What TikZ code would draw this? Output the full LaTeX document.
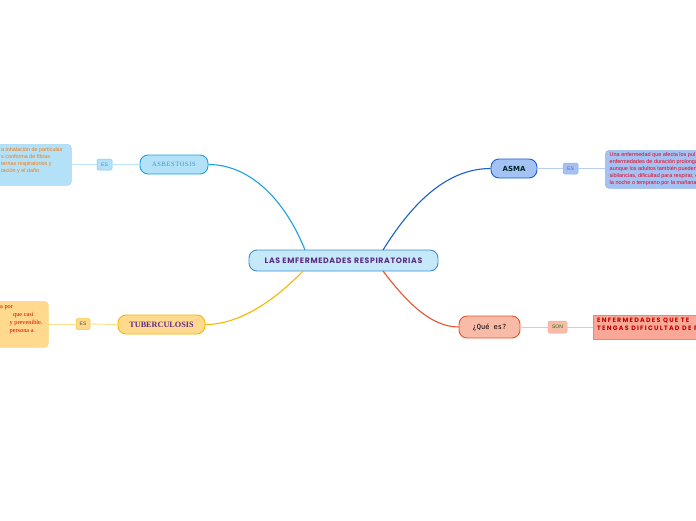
\documentclass[tikz,border=0pt]{standalone}
\usepackage{fontspec}
\setmainfont{Liberation Serif}
\setsansfont{DejaVu Sans}
\newfontfamily\titlefont[LetterSpace=8]{Poppins}
\newfontfamily\widefont[LetterSpace=20]{Poppins}
\newfontfamily\bodyfont{Liberation Sans}
\newfontfamily\monofont{DejaVu Sans Mono}
\usetikzlibrary{positioning}
\definecolor{cblue}{HTML}{1EA0E0}
\definecolor{cbluefill}{HTML}{B3E2F8}
\definecolor{cdblue}{HTML}{1A5FC9}
\definecolor{cdbluefill}{HTML}{A4C2F4}
\definecolor{cyel}{HTML}{F5B800}
\definecolor{cyelfill}{HTML}{FFD98E}
\definecolor{cred}{HTML}{E8542C}
\definecolor{credfill}{HTML}{F8BBA8}
\definecolor{ctitlefill}{HTML}{C5E9F8}
\definecolor{ctitleborder}{HTML}{3D8FD8}
\definecolor{cpurple}{HTML}{5B2A86}
\tikzset{
  topic/.style={draw, rounded corners=8pt, line width=0.9pt, inner sep=0pt},
  small/.style={draw, rounded corners=1.5pt, line width=0.5pt, inner sep=0pt, minimum width=15pt, minimum height=11pt, font=\fontsize{5}{6}\selectfont\bodyfont},
  leaf/.style={rounded corners=4pt, line width=0.7pt, inner sep=0pt, anchor=north west, draw},
  conn/.style={line width=1.1pt},
  thin/.style={line width=0.9pt}
}
\begin{document}
\begin{tikzpicture}[x=1pt,y=-1pt]
\useasboundingbox (0,0) rectangle (696,520);
\clip (0,0) rectangle (696,520);
\fill[white] (0,0) rectangle (696,520);
% central
\node[topic, draw=ctitleborder, fill=ctitlefill, minimum width=189pt, minimum height=21pt, text=cpurple, font=\fontsize{7.8}{8}\selectfont\titlefont\bfseries] (c) at (343.5,260.5) {LAS EMFERMEDADES RESPIRATORIAS};
% main topics
\node[topic, draw=cblue, fill=cbluefill, minimum width=68pt, minimum height=19pt, text=cblue!60!gray, font=\fontsize{6.5}{7}\selectfont] (asb) at (174,164.5) {A\kern.6pt S\kern.6pt B\kern.6pt E\kern.6pt S\kern.6pt T\kern.6pt O\kern.6pt S\kern.6pt I\kern.6pt S};
\node[topic, draw=cdblue, fill=cdbluefill, minimum width=46pt, minimum height=19pt, text=black!70!teal, font=\fontsize{7}{8}\selectfont\sffamily\bfseries] (asma) at (514,168.5) {ASMA};
\node[topic, draw=cyel, fill=cyelfill, minimum width=87pt, minimum height=19pt, text=cpurple, font=\fontsize{8.2}{9}\selectfont\bfseries] (tub) at (161.5,324.5) {TUBERCULOSIS};
\node[topic, draw=cred, fill=credfill, minimum width=61pt, minimum height=22pt, text=black, font=\fontsize{7}{8}\selectfont\monofont] (que) at (489.5,327) {¿Qué es?};
% connectors
\draw[conn, cblue] (305,250) .. controls (285,200) and (250,164.5) .. (asb.east);
\draw[conn, cdblue] (383,250) .. controls (405,215) and (440,168.5) .. (asma.west);
\draw[conn, cyel] (303,271) .. controls (275,300) and (240,324.5) .. (tub.east);
\draw[conn, cred] (383,271) .. controls (405,300) and (430,327) .. (que.west);
% small ES/SON boxes
\node[small, draw=cblue!60, fill=cbluefill, text=cblue!60!gray] (es1) at (104.5,164.5) {ES};
\node[small, draw=cdblue!50, fill=cdbluefill, text=cpurple!80] (es2) at (570.5,168.5) {ES};
\node[small, draw=cyel!80, fill=cyelfill, text=black!70, minimum width=14pt] (es3) at (83,324) {ES};
\node[small, draw=cred!50, fill=credfill, text=green!50!black, minimum width=19pt, minimum height=12pt] (son) at (557.5,327) {SON};
% leaves
\node[leaf, draw=cblue!40, fill=cbluefill, minimum width=111pt, minimum height=41pt] (l1) at (-40,144) {};
\node[anchor=north west, inner sep=0pt, align=left, text=orange!90!red, font=\fontsize{5.4}{7}\selectfont\bodyfont] (l1t) at (1,147.5) {a inhalación de partículas\\s conforma de fibras\\ternas respiratorios y\\tación y el daño};
\node[leaf, draw=cdblue!45, fill=cdbluefill, minimum width=130pt, minimum height=38pt] (l2) at (605,150) {};
\node[anchor=north west, inner sep=0pt, align=left, text=red!65!purple, font=\fontsize{5.5}{7}\selectfont\bodyfont] (l2t) at (609.5,152.5) {Una enfermedad que afecta los pul\\enfermedades de duración prolonga\\aunque los adultos también pueden\\sibilancias, dificultad para respirar, o\\la noche o temprano por la mañana};
\node[leaf, draw=cyel!50, fill=cyelfill, minimum width=90pt, minimum height=46pt] (l3) at (-42,301) {};
\node[anchor=north west, inner sep=0pt, align=left, text=red!85!black, font=\fontsize{6.3}{8}\selectfont] (l3t) at (0,305.5) {a por\\\hspace*{13pt}que casi\\\hspace*{9.5pt}y prevenible.\\\hspace*{9.5pt}persona a};
\node[leaf, rounded corners=0pt, draw=cred!70, fill=credfill!90!red, minimum width=110pt, minimum height=24pt] (l4) at (593,315) {};
\node[anchor=north west, inner sep=0pt, align=left, text=red!75!black, font=\fontsize{6.3}{8}\selectfont\widefont\bfseries] (l4t) at (597,318) {ENFERMEDADES QUE TE\\TENGAS DIFICULTAD DE R};
% thin connectors
\draw[thin, cblue!30] (asb.west) -- (es1.east);
\draw[thin, cblue!30] (es1.west) -- (71,164.5);
\draw[thin, cdblue!30] (asma.east) -- (es2.west);
\draw[thin, cdblue!30] (es2.east) -- (605,168.5);
\draw[thin, cyel!45] (tub.west) -- (es3.east);
\draw[thin, cyel!45] (es3.west) -- (48,324);
\draw[thin, cred!35] (que.east) -- (son.west);
\draw[thin, cred!35] (son.east) -- (593,327);
\end{tikzpicture}
\end{document}
